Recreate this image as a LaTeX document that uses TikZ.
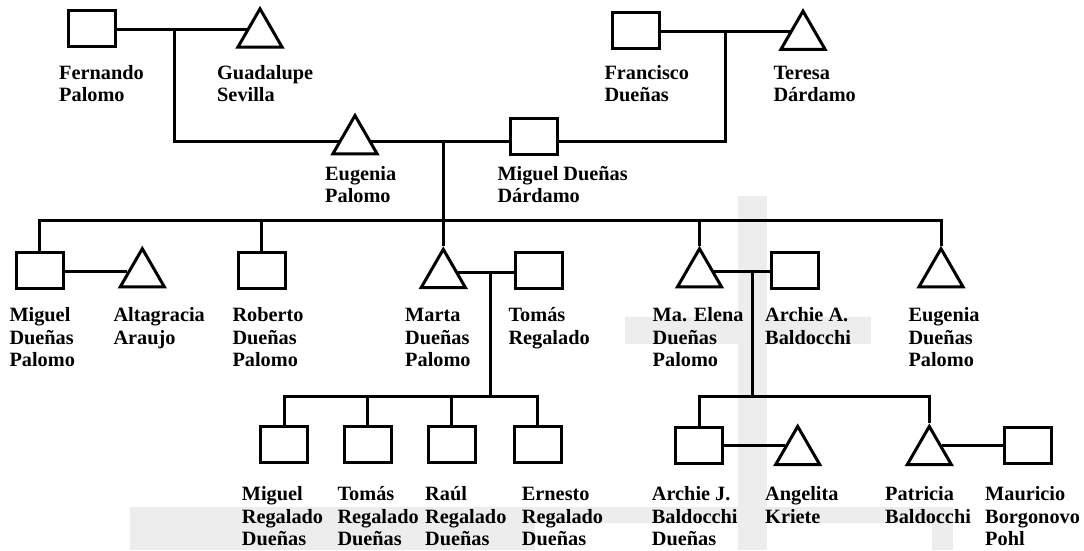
\documentclass[tikz,border=0pt]{standalone}
\usepackage{fontspec}
\setmainfont{Liberation Serif}
\usetikzlibrary{shapes.geometric}
\begin{document}
\begin{tikzpicture}[x=1pt,y=-1pt,
  sq/.style={draw, line width=3pt, rectangle, minimum width=47pt, minimum height=36pt, inner sep=0pt},
  tri/.style={draw, line width=3pt, regular polygon, regular polygon sides=3, minimum size=51pt, inner sep=0pt},
  ln/.style={line width=3pt},
  lbl/.style={anchor=base west, align=left, inner sep=0pt, font=\fontsize{20.3}{22.5}\selectfont\bfseries},
  band/.style={fill=black!7, draw=none}]
\useasboundingbox (0,0) rectangle (1084,550);
% light scan bands
\fill[band] (738.3,196) rectangle (766.7,550);
\fill[band] (625,316.7) rectangle (870.7,344.3);
\fill[band] (130,506.7) rectangle (953,523);
\fill[band] (130,523) rectangle (535,550);
\fill[band] (931.7,523) rectangle (953,550);
% generation 1
\node[sq]  (F)  at (91.5,28.8) {};
\node[tri] (G)  at (260,34.3) {};
\node[sq]  (Fr) at (636,30.5) {};
\node[tri] (T)  at (803,36.6) {};
% generation 2
\node[tri] (E)  at (355,141) {};
\node[sq]  (M)  at (534,136.2) {};
% generation 3
\node[sq]  (MDP) at (39.6,270) {};
\node[tri] (A)   at (142.3,274.2) {};
\node[sq]  (R)   at (261.7,270.2) {};
\node[tri] (Ma)  at (443.3,274.8) {};
\node[sq]  (To)  at (538.7,270) {};
\node[tri] (ME)  at (699.5,274.2) {};
\node[sq]  (AA)  at (794.7,270) {};
\node[tri] (ED)  at (941,274.2) {};
% generation 4
\node[sq]  (C1) at (284,444.2) {};
\node[sq]  (C2) at (367.5,444.2) {};
\node[sq]  (C3) at (451.5,444.2) {};
\node[sq]  (C4) at (537.5,444.2) {};
\node[sq]  (AJ) at (699.2,445.8) {};
\node[tri] (An) at (797.7,451.9) {};
\node[tri] (P)  at (929.3,451.9) {};
\node[sq]  (Mo) at (1028.3,445.8) {};
% helper coordinates
\coordinate (fgx) at (174,0);
\coordinate (ftx) at (725,0);
\coordinate (sibY) at (0,220.7);
\coordinate (mtx) at (490,0);
\coordinate (mex) at (752.3,0);
\coordinate (c3y) at (0,396);
\coordinate (c4y) at (0,396.7);
% connectors generation 1
\draw[ln] (G.159) -- (G.159 -| F.east);
\coordinate (fg) at (G.159 -| fgx);
\draw[ln] (fg) |- (E.west);
\draw[ln] (T.159) -- (T.159 -| Fr.east);
\coordinate (ft) at (T.159 -| ftx);
\draw[ln] (ft) |- (E.east -| M.east);
\draw[ln] (E.east) -- (E.east -| M.west);
% connectors generation 2 -> 3
\coordinate (em) at (E.east -| Ma.north);
\draw[ln] (em) -- (Ma.north);
\draw[ln] (MDP.north) |- (sibY -| ED.north) -- (ED.north);
\draw[ln] (R.north) -- (R.north |- sibY);
\draw[ln] (ME.north) -- (ME.north |- sibY);
\draw[ln] (A.170) -- (A.170 -| MDP.east);
\draw[ln] (Ma.10) -- (Ma.10 -| To.west);
\draw[ln] (ME.10) -- (ME.10 -| AA.west);
% connectors generation 3 -> 4
\coordinate (mt) at (Ma.10 -| mtx);
\draw[ln] (mt) -- (mt |- c3y);
\draw[ln] (C1.north) |- (c3y -| C4.north) -- (C4.north);
\draw[ln] (C2.north) -- (C2.north |- c3y);
\draw[ln] (C3.north) -- (C3.north |- c3y);
\coordinate (me) at (ME.10 -| mex);
\draw[ln] (me) -- (me |- c4y);
\draw[ln] (AJ.north) |- (c4y -| P.north) -- (P.north);
\draw[ln] (An.155) -- (An.155 -| AJ.east);
\draw[ln] (P.25) -- (P.25 -| Mo.west);
% labels (anchor = baseline of the last line)
\node[lbl] (tF)  at (59,101.8)  {Fernando\\Palomo};
\node[lbl] (tG)  at (217,101.8) {Guadalupe\\Sevilla};
\node[lbl] (tFr) at (604.3,101.8) {Francisco\\Dueñas};
\node[lbl] (tT)  at (773.3,101.8) {Teresa\\Dárdamo};
\node[lbl] (tE)  at (325,202.8) {Eugenia\\Palomo};
\node[lbl] (tM)  at (497.3,202.8) {Miguel Dueñas\\Dárdamo};
\node[lbl] (tMDP) at (9.3,366.8) {Miguel\\Dueñas\\Palomo};
\node[lbl] (tA)   at (113.3,344.3) {Altagracia\\Araujo};
\node[lbl] (tR)   at (232.3,366.8) {Roberto\\Dueñas\\Palomo};
\node[lbl] (tMa)  at (405,366.8) {Marta\\Dueñas\\Palomo};
\node[lbl] (tTo)  at (508.3,344.3) {Tomás\\Regalado};
\node[lbl] (tME)  at (652.5,366.8) {Ma. Elena\\Dueñas\\Palomo};
\node[lbl] (tAA)  at (765,344.3) {Archie A.\\Baldocchi};
\node[lbl] (tED)  at (908.3,366.8) {Eugenia\\Dueñas\\Palomo};
\node[lbl] (tC1) at (241.7,545.8) {Miguel\\Regalado\\Dueñas};
\node[lbl] (tC2) at (337.3,545.8) {Tomás\\Regalado\\Dueñas};
\node[lbl] (tC3) at (425,545.8) {Raúl\\Regalado\\Dueñas};
\node[lbl] (tC4) at (521.7,545.8) {Ernesto\\Regalado\\Dueñas};
\node[lbl] (tAJ) at (651.7,545.8) {Archie J.\\Baldocchi\\Dueñas};
\node[lbl] (tAn) at (765,523.3) {Angelita\\Kriete};
\node[lbl] (tP)  at (885,523.3) {Patricia\\Baldocchi};
\node[lbl] (tMo) at (985,545.8) {Mauricio\\Borgonovo\\Pohl};
\end{tikzpicture}
\end{document}
